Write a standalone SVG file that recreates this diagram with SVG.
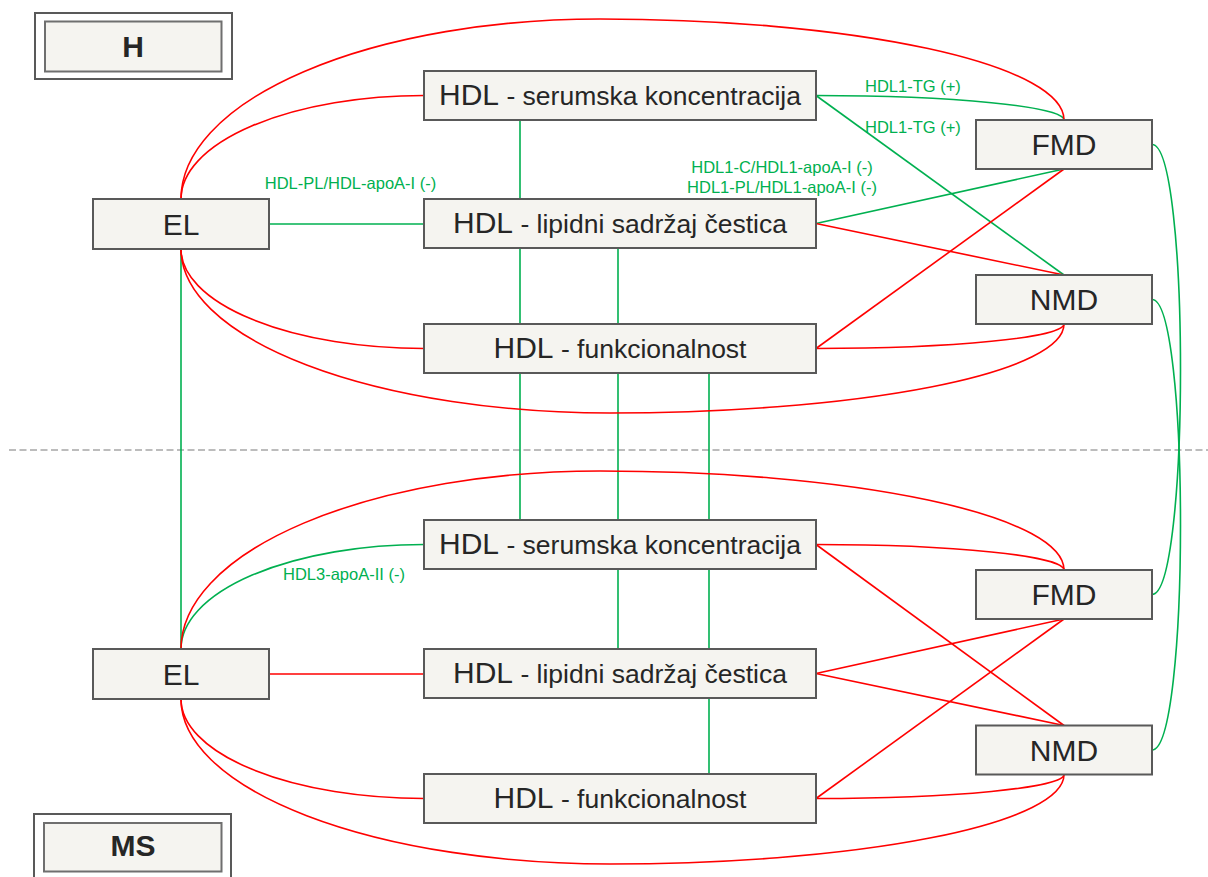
<svg xmlns="http://www.w3.org/2000/svg" width="1208" height="877" viewBox="0 0 1208 877">
<style>
.bg{fill:#ffffff}
.box{fill:#f5f4f0;stroke:#595959;stroke-width:2}
.frame{fill:#ffffff;stroke:#595959;stroke-width:2}
.inner{fill:#f5f4f0;stroke:#6f6f6f;stroke-width:2}
.g{fill:none;stroke:#00b050;stroke-width:1.6}
.r{fill:none;stroke:#ff0000;stroke-width:1.6}
.t{font-family:"Liberation Sans",Arial,sans-serif;fill:#262626;text-anchor:middle}
.big{font-size:30px}
.sm{font-size:26.5px}
.hdr{font-family:"Liberation Sans",Arial,sans-serif;font-weight:bold;font-size:30px;fill:#262626;text-anchor:middle}
.lbl{font-family:"Liberation Sans",Arial,sans-serif;font-size:16.5px;fill:#00b050}
.dash{stroke:#a6a6a6;stroke-width:1.6;stroke-dasharray:7 3.5;fill:none}
</style>
<rect class="bg" x="0" y="0" width="1208" height="877"/>
<line class="dash" x1="9" y1="450" x2="1208" y2="450"/>
<g id="connectors">
<path class="g" d="M269,224 H424"/>
<path class="g" d="M520,120 V199"/>
<path class="g" d="M520,248 V324"/>
<path class="g" d="M618,248 V324"/>
<path class="g" d="M520,373 V520"/>
<path class="g" d="M618,373 V649"/>
<path class="g" d="M709,373 V774"/>
<path class="g" d="M181,249 V649"/>
<path class="g" d="M816,95.5 A248,24.5 0 0 1 1064,120"/>
<path class="g" d="M816,95.5 L1064,275"/>
<path class="g" d="M816,223.5 L1064,169"/>
<path class="g" d="M1152,144.5 C1190,144.5 1190,594.5 1152,594.5"/>
<path class="g" d="M1152,299.5 C1190,299.5 1190,750 1152,750"/>
<path class="g" d="M181,649 A243,104.5 0 0 1 424,544.5"/>
<path class="r" d="M181,199 A243,103.5 0 0 1 424,95.5"/>
<path class="r" d="M181,199 A419,180 0 0 1 600,19 A464,101 0 0 1 1064,120"/>
<path class="r" d="M181,249 A243,99.5 0 0 0 424,348.5"/>
<path class="r" d="M181,249 A429,164 0 0 0 610,413 A454,89 0 0 0 1064,324"/>
<path class="r" d="M816,223.5 L1064,275"/>
<path class="r" d="M816,348.5 L1064,169"/>
<path class="r" d="M816,348.5 A248,24.5 0 0 0 1064,324"/>
<path class="r" d="M181,649 A419,178 0 0 1 600,471 A464,99 0 0 1 1064,570"/>
<path class="r" d="M269,674 H424"/>
<path class="r" d="M181,699 A243,99.5 0 0 0 424,798.5"/>
<path class="r" d="M181,699 A429,165 0 0 0 610,864 A454,89.5 0 0 0 1064,774.5"/>
<path class="r" d="M816,544.5 A248,25.5 0 0 1 1064,570"/>
<path class="r" d="M816,544.5 L1064,725.5"/>
<path class="r" d="M816,673.5 L1064,619"/>
<path class="r" d="M816,673.5 L1064,725.5"/>
<path class="r" d="M816,798.5 L1064,619"/>
<path class="r" d="M816,798.5 A248,24 0 0 0 1064,774.5"/>
</g>
<g id="labels">
<text class="lbl" x="865" y="92">HDL1-TG (+)</text>
<text class="lbl" x="865" y="132.5">HDL1-TG (+)</text>
<text class="lbl" x="782" y="172.5" text-anchor="middle">HDL1-C/HDL1-apoA-I (-)</text>
<text class="lbl" x="782" y="192.5" text-anchor="middle">HDL1-PL/HDL1-apoA-I (-)</text>
<text class="lbl" x="350.5" y="188.5" text-anchor="middle">HDL-PL/HDL-apoA-I (-)</text>
<text class="lbl" x="283" y="580">HDL3-apoA-II (-)</text>
</g>
<g id="H">
<rect class="frame" x="35" y="13" width="197" height="66"/>
<rect class="inner" x="45" y="21.5" width="176.5" height="50"/>
<text class="hdr" x="133" y="57">H</text>
</g>
<g id="MS">
<rect class="frame" x="34" y="814" width="197" height="70"/>
<rect class="inner" x="44" y="823" width="177.5" height="48.5"/>
<text class="hdr" x="133" y="856">MS</text>
</g>
<g id="H-serum">
<rect class="box" x="424" y="71" width="392" height="49"/>
<text class="t" x="620" y="105"><tspan class="big">HDL</tspan><tspan class="sm"> - serumska koncentracija</tspan></text>
</g>
<g id="H-lipid">
<rect class="box" x="424" y="199" width="392" height="49"/>
<text class="t" x="620" y="233"><tspan class="big">HDL</tspan><tspan class="sm"> - lipidni sadržaj čestica</tspan></text>
</g>
<g id="H-funk">
<rect class="box" x="424" y="324" width="392" height="49"/>
<text class="t" x="620" y="358"><tspan class="big">HDL</tspan><tspan class="sm"> - funkcionalnost</tspan></text>
</g>
<g id="H-EL">
<rect class="box" x="93" y="199" width="176" height="50"/>
<text class="t big" x="181" y="234.5">EL</text>
</g>
<g id="H-FMD">
<rect class="box" x="976" y="120" width="176" height="49"/>
<text class="t big" x="1064" y="155">FMD</text>
</g>
<g id="H-NMD">
<rect class="box" x="976" y="275" width="176" height="49"/>
<text class="t big" x="1064" y="310">NMD</text>
</g>
<g id="MS-serum">
<rect class="box" x="424" y="520" width="392" height="49"/>
<text class="t" x="620" y="554"><tspan class="big">HDL</tspan><tspan class="sm"> - serumska koncentracija</tspan></text>
</g>
<g id="MS-lipid">
<rect class="box" x="424" y="649" width="392" height="49"/>
<text class="t" x="620" y="683"><tspan class="big">HDL</tspan><tspan class="sm"> - lipidni sadržaj čestica</tspan></text>
</g>
<g id="MS-funk">
<rect class="box" x="424" y="774" width="392" height="49"/>
<text class="t" x="620" y="808"><tspan class="big">HDL</tspan><tspan class="sm"> - funkcionalnost</tspan></text>
</g>
<g id="MS-EL">
<rect class="box" x="93" y="649" width="176" height="50"/>
<text class="t big" x="181" y="684.5">EL</text>
</g>
<g id="MS-FMD">
<rect class="box" x="976" y="570" width="176" height="49"/>
<text class="t big" x="1064" y="605">FMD</text>
</g>
<g id="MS-NMD">
<rect class="box" x="976" y="725.5" width="176" height="49"/>
<text class="t big" x="1064" y="760.5">NMD</text>
</g>
</svg>
